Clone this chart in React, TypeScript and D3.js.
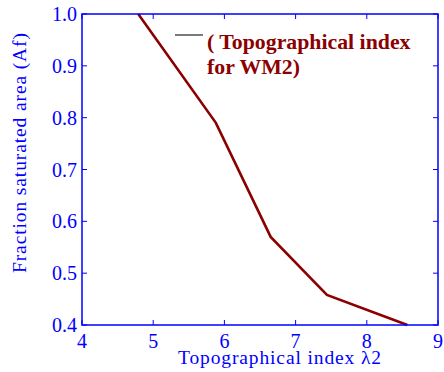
import React from "react";
import * as d3 from "d3";

const xValues = [4.79, 5.88, 6.65, 7.44, 8.57];
const yValues = [1.0, 0.79, 0.57, 0.458, 0.4];
const xTicks = [4, 5, 6, 7, 8, 9];
const yTicks = [0.4, 0.5, 0.6, 0.7, 0.8, 0.9, 1.0];
const legendLines = ["( Topographical index", "for WM2)"];

const W = 444, H = 372;
const left = 82, right = 438, top = 14, bottom = 325;
const blue = "#0000ff";
const red = "#8b0000";
const font = "Liberation Serif, DejaVu Serif, Times New Roman, serif";

export default function App() {
  const x = d3.scaleLinear().domain([4, 9]).range([left, right]);
  const y = d3.scaleLinear().domain([0.4, 1.0]).range([bottom, top]);
  const pts: [number, number][] = xValues.map((v, i) => [v, yValues[i]]);
  const line = d3.line<[number, number]>().x(d => x(d[0])).y(d => y(d[1]));
  const tl = 5;
  const ts = { fontFamily: font } as React.CSSProperties;
  return (
    <svg width={W} height={H} style={{ position: "absolute", left: 0, top: 0, background: "#fff", fontFamily: font }}>
      <rect x={0} y={0} width={W} height={H} fill="#fff" />
      <path d={line(pts) || ""} fill="none" stroke={red} strokeWidth={2.6} strokeLinejoin="miter" />
      <rect x={left} y={top} width={right - left} height={bottom - top} fill="none" stroke={blue} strokeWidth={1.5} />
      {xTicks.map(t => (
        <g key={"x" + t}>
          <line x1={x(t)} x2={x(t)} y1={bottom} y2={bottom - tl} stroke={blue} strokeWidth={1} />
          <line x1={x(t)} x2={x(t)} y1={top} y2={top + tl} stroke={blue} strokeWidth={1} />
          <text x={x(t)} y={348} textAnchor="middle" fill={blue} style={ts} fontSize={20}>{t}</text>
        </g>
      ))}
      {yTicks.map(t => (
        <g key={"y" + t}>
          <line x1={left} x2={left + tl} y1={y(t)} y2={y(t)} stroke={blue} strokeWidth={1} />
          <line x1={right} x2={right - tl} y1={y(t)} y2={y(t)} stroke={blue} strokeWidth={1} />
          <text x={77} y={y(t) + 7} textAnchor="end" fill={blue} style={ts} fontSize={20}>{t.toFixed(1)}</text>
        </g>
      ))}
      <text x={178} y={364} fill={blue} style={ts} fontSize={19.5} textLength={203} lengthAdjust="spacing">Topographical index λ2</text>
      <text transform={`translate(26,273) rotate(-90)`} fill={blue} style={ts} fontSize={19.5} textLength={240} lengthAdjust="spacing">Fraction saturated area (Af)</text>
      <line x1={175} x2={203} y1={35} y2={35} stroke="#222" strokeWidth={1.2} />
      {legendLines.map((s, i) => (
        <text key={s} x={207} y={49 + i * 25} fill={red} style={ts} fontSize={21.8} fontWeight="bold">{s}</text>
      ))}
    </svg>
  );
}
